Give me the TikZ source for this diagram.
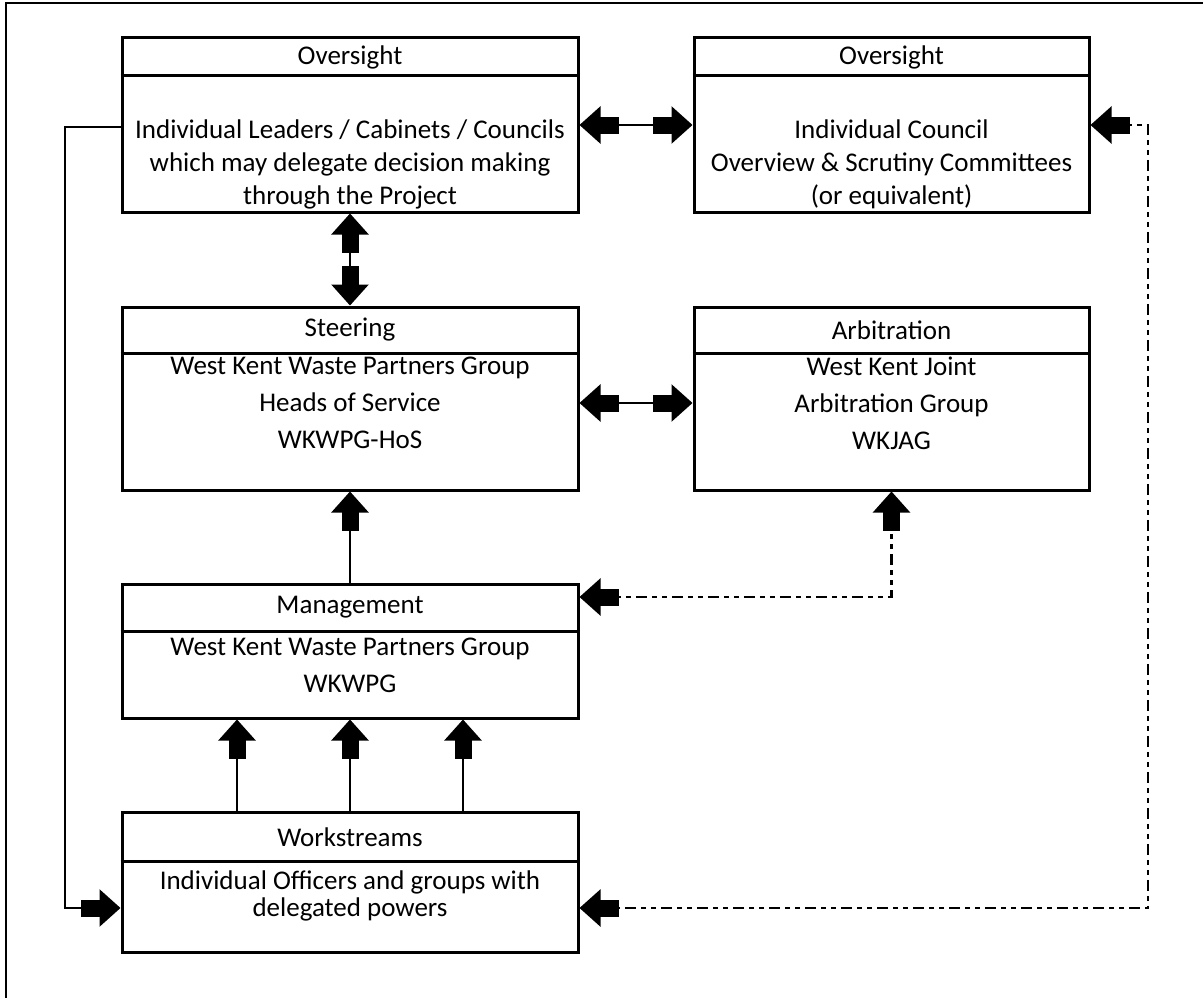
\documentclass[tikz,border=0pt]{standalone}
\usepackage{fontspec}
\setmainfont{Carlito}
\usetikzlibrary{arrows.meta,calc}
\begin{document}
\begin{tikzpicture}[x=1pt,y=-1pt,
  box/.style={draw,line width=3pt,inner sep=0pt},
  divl/.style={line width=3pt},
  hd/.style={inner sep=0pt,font=\fontsize{27}{30}\selectfont},
  body/.style={inner sep=0pt,align=center},
  conn/.style={line width=2.6pt},
  dd/.style={line width=2.4pt,dash pattern=on 11pt off 5pt on 5pt off 5pt on 5pt off 5pt},
  ua/.style={-{Rectangle[length=20pt,width=17pt,sep=-1.5pt]Triangle[length=21pt,width=37pt]}},
  da/.style={{Triangle[length=21pt,width=37pt]Rectangle[length=20pt,width=17pt,sep=-1.5pt]}-{Rectangle[length=20pt,width=17pt,sep=-1.5pt]Triangle[length=21pt,width=37pt]}}]
\useasboundingbox (0,0) rectangle (1203,998);
\draw[line width=1.6pt] (6,998) -- (6,3) -- (1203,3);

% boxes
\node[box,minimum width=456pt,minimum height=174pt] (b1) at (350,125) {};
\node[box,minimum width=395pt,minimum height=174pt] (b2) at (891.5,125) {};
\node[box,minimum width=456pt,minimum height=183pt] (b3) at (350,398.5) {};
\node[box,minimum width=395pt,minimum height=183pt] (b4) at (891.5,398.5) {};
\node[box,minimum width=456pt,minimum height=134pt] (b5) at (350,651) {};
\node[box,minimum width=456pt,minimum height=140pt] (b6) at (350,882) {};

% header dividers
\draw[divl] (b1.west |- 0,76) -- (b1.east |- 0,76);
\draw[divl] (b2.west |- 0,76) -- (b2.east |- 0,76);
\draw[divl] (b3.west |- 0,353) -- (b3.east |- 0,353);
\draw[divl] (b4.west |- 0,353) -- (b4.east |- 0,353);
\draw[divl] (b5.west |- 0,631) -- (b5.east |- 0,631);
\draw[divl] (b6.west |- 0,861) -- (b6.east |- 0,861);

% headers
\node[hd] (h1) at (350,57) {Oversight};
\node[hd] (h2) at (891.5,57) {Oversight};
\node[hd] (h3) at (350,330) {Steering};
\node[hd] (h4) at (891.5,330) {Arbitration};
\node[hd] (h5) at (350,607) {Management};
\node[hd] (h6) at (350,837) {Workstreams};

% bodies
\node[body,font=\fontsize{27}{33}\selectfont] (t1) at (350,164) {Individual Leaders / Cabinets / Councils\\which may delegate decision making\\through the Project};
\node[body,font=\fontsize{27}{33}\selectfont] (t2) at (891.5,164) {Individual Council\\Overview \& Scrutiny Committees\\(or equivalent)};
\node[body,font=\fontsize{27}{37}\selectfont] (t3) at (350,403) {West Kent Waste Partners Group\\Heads of Service\\WKWPG-HoS};
\node[body,font=\fontsize{27}{37}\selectfont] (t4) at (891.5,403) {West Kent Joint\\Arbitration Group\\WKJAG};
\node[body,font=\fontsize{27}{37}\selectfont] (t5) at (350,665.5) {West Kent Waste Partners Group\\WKWPG};
\node[body,font=\fontsize{27}{27}\selectfont] (t6) at (350,895.5) {Individual Officers and groups with\\delegated powers};

% solid connectors
\draw[conn,da] (b1.east) -- (b2.west);
\draw[conn,da] (b1.south) -- (b3.north);
\coordinate (m) at (636,403);
\draw[conn,da] (b3.east |- m) -- (b4.west |- m);
\draw[conn,ua] (b5.north) -- (b3.south);
\foreach \xx in {237,350,463}
  \draw[conn,ua] (b6.north -| \xx,0) -- (b5.south -| \xx,0);
\coordinate (l1) at (65,127);
\coordinate (l2) at (65,908);
\draw[conn,ua] (b1.west |- l1) -- (l1) -- (l2) -- (b6.west |- l2);

% dashed connectors
\coordinate (a1) at (891.5,597);
\draw[dd,da] (b5.east |- a1) -- (a1) -- (b4.south);
\coordinate (r1) at (1148,125);
\coordinate (r2) at (1148,908);
\draw[dd,da] (b2.east) -- (r1) -- (r2) -- (b6.east |- r2);
\end{tikzpicture}
\end{document}
